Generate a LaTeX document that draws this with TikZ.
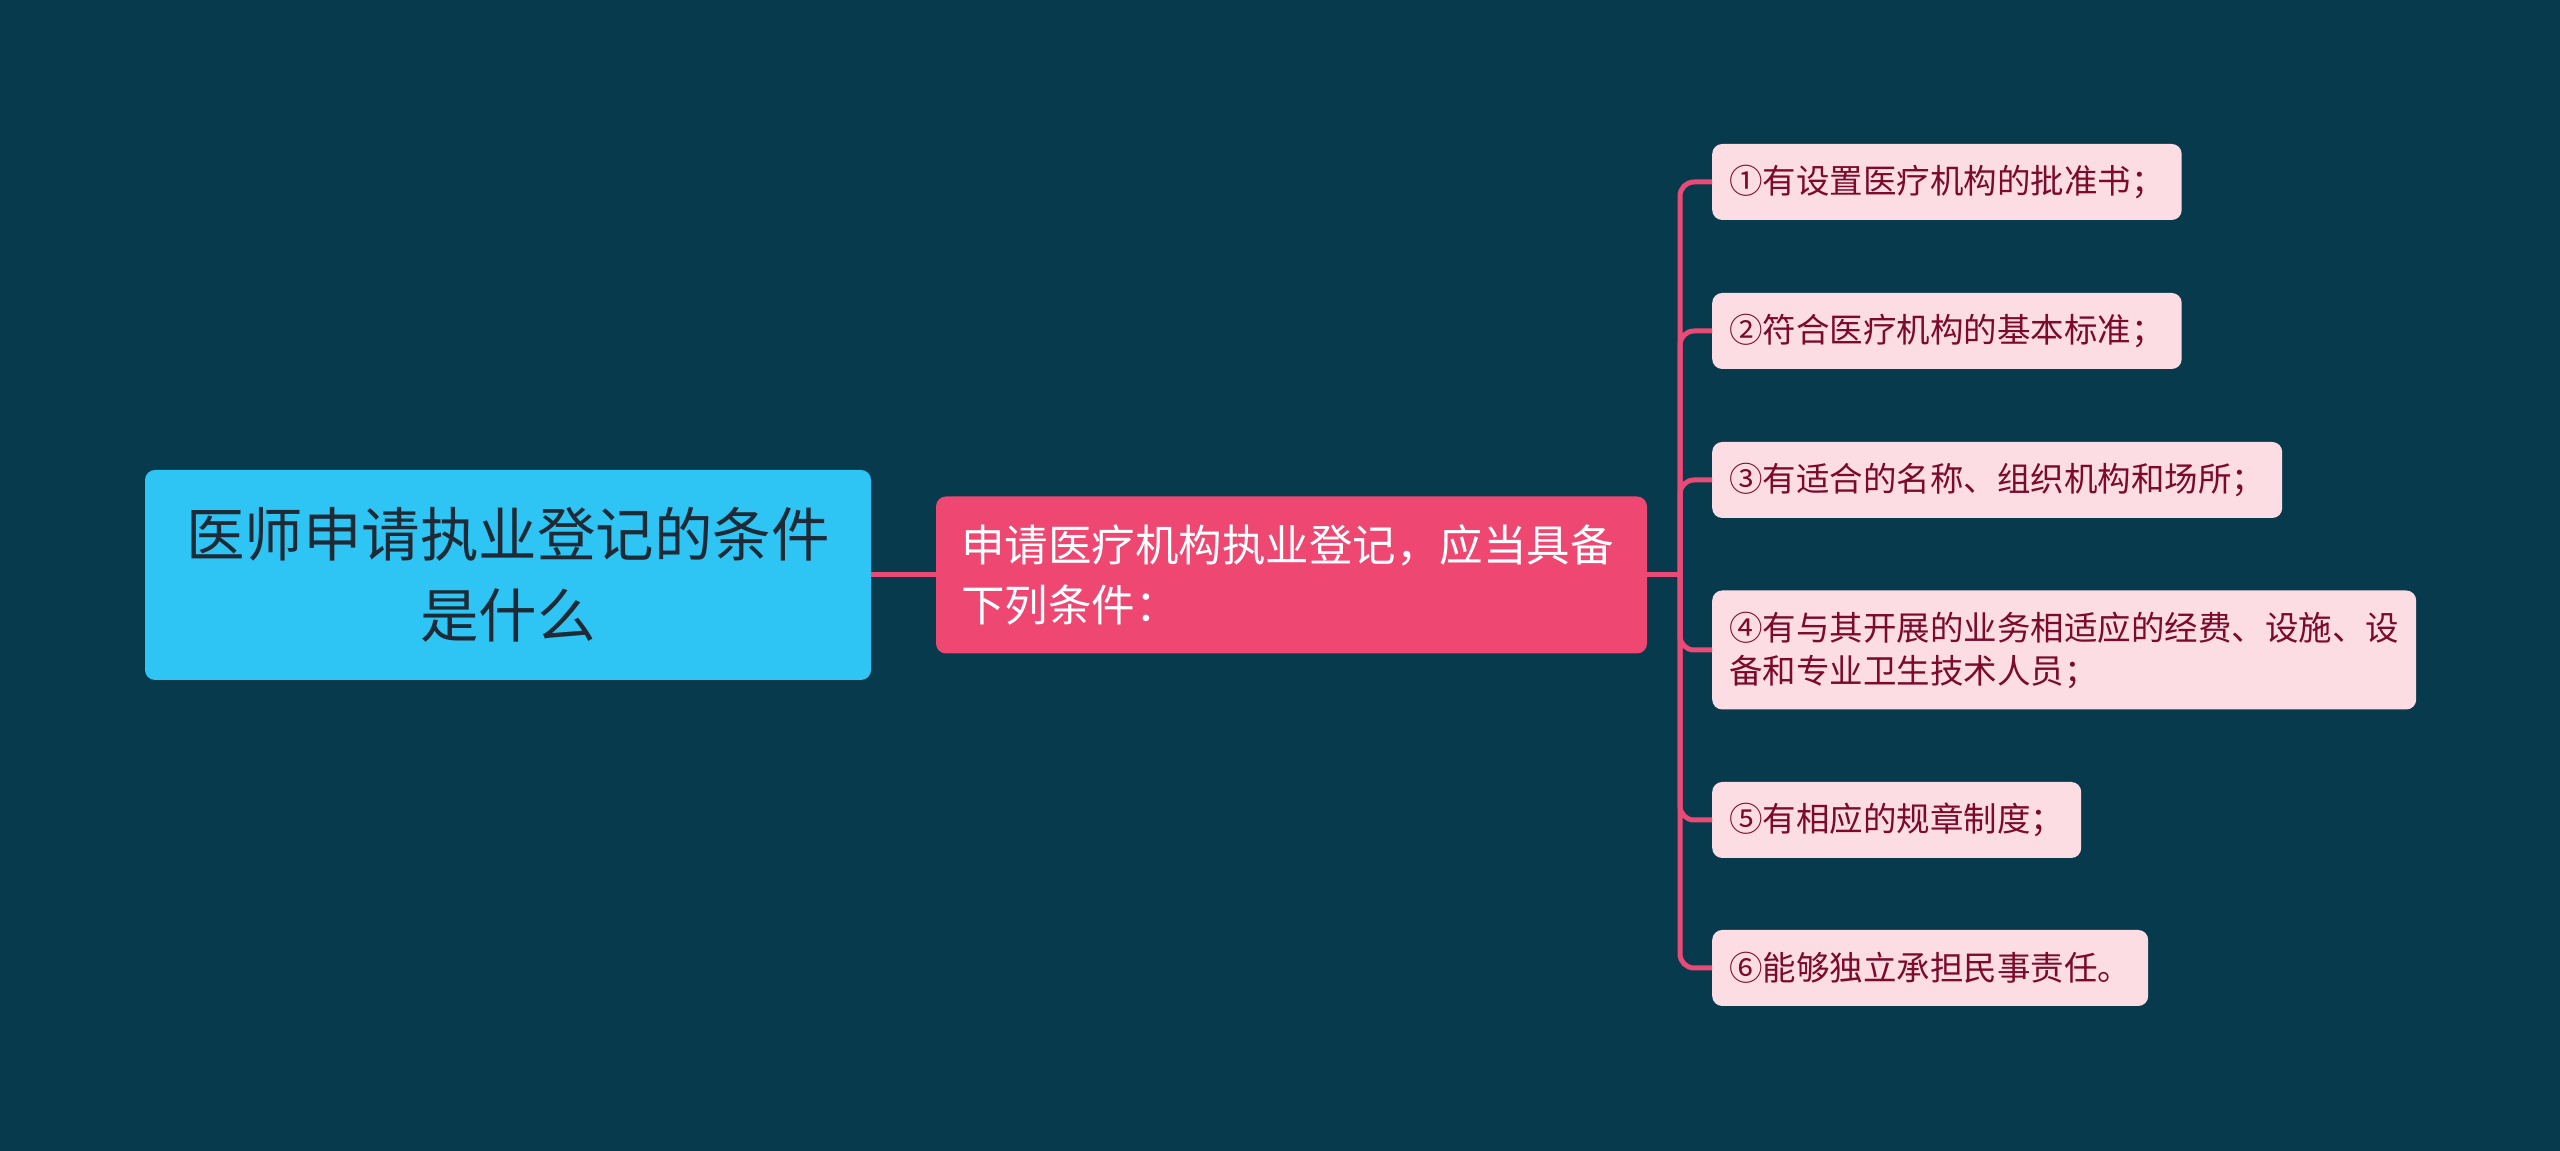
\documentclass[tikz,border=0pt]{standalone}
\usepackage{fontspec}
\setmainfont{Noto Sans CJK SC}
\definecolor{bgc}{HTML}{073A4D}
\definecolor{rootc}{HTML}{2EC4F3}
\definecolor{roottext}{HTML}{1E2B36}
\definecolor{midc}{HTML}{EE4771}
\definecolor{leafc}{HTML}{FDDDE4}
\definecolor{leaftext}{HTML}{7B0A2C}
\definecolor{linec}{HTML}{E94A76}
\begin{document}
\begin{tikzpicture}[x=1pt,y=1pt,
  rootbox/.style={fill=rootc, rounded corners=10pt, text=roottext, align=center,
    minimum width=726pt, minimum height=210pt, inner xsep=40pt,
    font=\fontsize{58.5}{81}\selectfont},
  midbox/.style={fill=midc, rounded corners=10pt, text=white, align=left,
    text width=661pt, inner xsep=25pt, minimum height=157pt,
    font=\fontsize{43.5}{60}\selectfont},
  leafbox/.style={fill=leafc, rounded corners=10pt, text=leaftext, align=left,
    inner xsep=17pt, minimum height=76pt, anchor=west,
    font=\fontsize{33.5}{43}\selectfont},
  conn/.style={draw=linec, line width=5pt},
  branch/.style={draw=linec, line width=5pt, rounded corners=14pt}]
\fill[bgc] (0,0) rectangle (2560,1151);
\useasboundingbox (0,0) rectangle (2560,1151);

\node[rootbox] (root) at (508,576) {医师申请执业登记的条件\\是什么};
\node[midbox] (mid) at (1291.5,576) {申请医疗机构执业登记，应当具备\\下列条件：};

\node[leafbox] (l1) at (1712,969) {①有设置医疗机构的批准书；};
\node[leafbox] (l2) at (1712,820) {②符合医疗机构的基本标准；};
\node[leafbox] (l3) at (1712,671) {③有适合的名称、组织机构和场所；};
\node[leafbox, minimum height=119pt] (l4) at (1712,501) {④有与其开展的业务相适应的经费、设施、设\\备和专业卫生技术人员；};
\node[leafbox] (l5) at (1712,331) {⑤有相应的规章制度；};
\node[leafbox] (l6) at (1712,183) {⑥能够独立承担民事责任。};

\coordinate (J) at (1680,576);
\draw[conn] (root.east) -- (mid.west);
\draw[conn] (mid.east) -- (J);
\foreach \l in {l1,l2,l3,l4,l5,l6}{
  \draw[branch] (J) |- (\l.west);
}
\end{tikzpicture}
\end{document}
